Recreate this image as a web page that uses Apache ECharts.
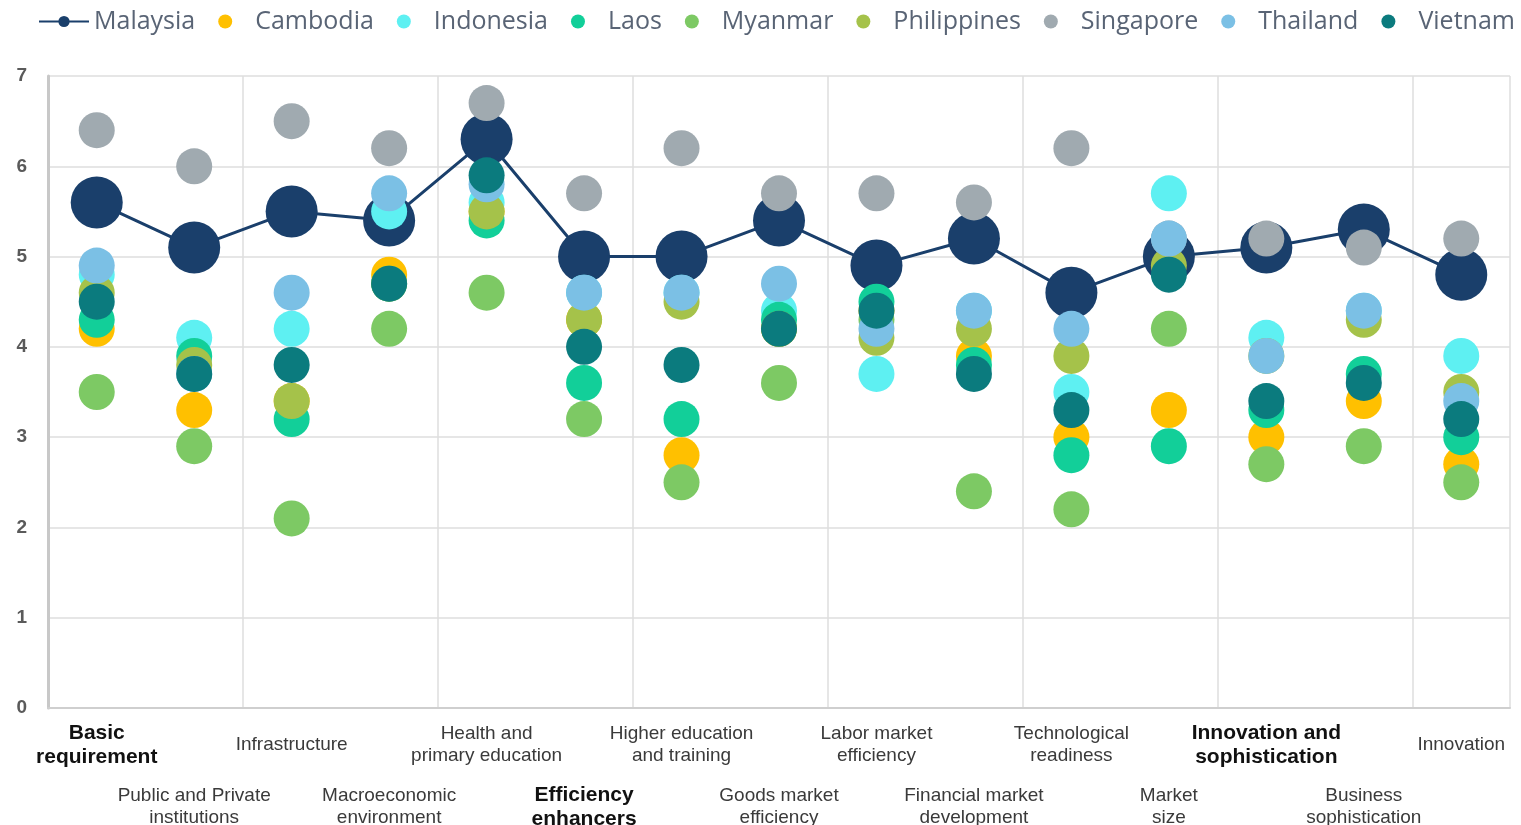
<!DOCTYPE html>
<html>
<head>
<meta charset="utf-8">
<title>Competitiveness pillars</title>
<script src="https://cdn.jsdelivr.net/npm/echarts@6/dist/echarts.min.js"></script>
<style>
    html, body { margin: 0; padding: 0; background: #fff; }
    #chart { width: 1521px; height: 825px; }
</style>
</head>
<body>
<div id="chart"></div>
<script>
// pillars on the x axis (bold ones are the group headings)
var categories = [
    'Basic\nrequirement', 'Public and Private\ninstitutions', 'Infrastructure',
    'Macroeconomic\nenvironment', 'Health and\nprimary education', 'Efficiency\nenhancers',
    'Higher education\nand training', 'Goods market\nefficiency', 'Labor market\nefficiency',
    'Financial market\ndevelopment', 'Technological\nreadiness', 'Market\nsize',
    'Innovation and\nsophistication', 'Business\nsophistication', 'Innovation'
]
var headings = [0, 5, 12]
var yTicks = [0, 1, 2, 3, 4, 5, 6, 7]

var countries = ['Malaysia', 'Cambodia', 'Indonesia', 'Laos', 'Myanmar', 'Philippines', 'Singapore', 'Thailand', 'Vietnam']
var colors = ['#1a3f6b', '#ffc000', '#5ef0f2', '#12cf99', '#7dc964', '#a5c24a', '#a0aab0', '#7bc0e5', '#0b7b7e']

// scores per country, one per pillar
var malaysia    = [5.6, 5.1, 5.5, 5.4, 6.3, 5.0, 5.0, 5.4, 4.9, 5.2, 4.6, 5.0, 5.1, 5.3, 4.8]
var cambodia    = [4.2, 3.3, 3.4, 4.8, 5.5, 4.3, 2.8, 4.2, 4.4, 3.9, 3.0, 3.3, 3.0, 3.4, 2.7]
var indonesia   = [4.8, 4.1, 4.2, 5.5, 5.6, 4.6, 4.6, 4.4, 3.7, 4.4, 3.5, 5.7, 4.1, 4.4, 3.9]
var laos        = [4.3, 3.9, 3.2, 4.7, 5.4, 3.6, 3.2, 4.3, 4.5, 3.8, 2.8, 2.9, 3.3, 3.7, 3.0]
var myanmar     = [3.5, 2.9, 2.1, 4.2, 4.6, 3.2, 2.5, 3.6, 4.3, 2.4, 2.2, 4.2, 2.7, 2.9, 2.5]
var philippines = [4.6, 3.8, 3.4, 4.7, 5.5, 4.3, 4.5, 4.2, 4.1, 4.2, 3.9, 4.9, 3.9, 4.3, 3.5]
var singapore   = [6.4, 6.0, 6.5, 6.2, 6.7, 5.7, 6.2, 5.7, 5.7, 5.6, 6.2, 5.2, 5.2, 5.1, 5.2]
var thailand    = [4.9, 3.7, 4.6, 5.7, 5.8, 4.6, 4.6, 4.7, 4.2, 4.4, 4.2, 5.2, 3.9, 4.4, 3.4]
var vietnam     = [4.5, 3.7, 3.8, 4.7, 5.9, 4.0, 3.8, 4.2, 4.4, 3.7, 3.3, 4.8, 3.4, 3.6, 3.2]

var values = [malaysia, cambodia, indonesia, laos, myanmar, philippines, singapore, thailand, vietnam]

var chart = echarts.init(document.getElementById('chart'))

function pillarLabel(value, index) {
    if (headings.indexOf(index) >= 0) return '{head|' + value.split('\n').join('}\n{head|') + '}'
    return '{norm|' + value.split('\n').join('}\n{norm|') + '}'
}

var labelRich = {
    head: { fontFamily: 'Liberation Sans', fontSize: 21, fontWeight: 'bold', color: '#111', lineHeight: 24 },
    norm: { fontFamily: 'Liberation Sans', fontSize: 19, color: '#3a3a3a', lineHeight: 22 }
}

var series = countries.map(function (name, i) {
    if (i === 0) {
        return {
            name: name,
            type: 'line',
            data: values[i],
            symbol: 'circle',
            symbolSize: 52,
            itemStyle: { color: colors[i] },
            lineStyle: { color: colors[i], width: 3 },
            z: 2
        }
    }
    return {
        name: name,
        type: 'scatter',
        data: values[i],
        symbol: 'circle',
        symbolSize: 36,
        itemStyle: { color: colors[i], opacity: 1 },
        z: 3
    }
})

var option = {
    animation: false,
    color: colors,
    legend: {
        data: countries,
        left: 33,
        top: 4,
        itemWidth: 50,
        itemHeight: 14,
        itemGap: 23,
        textStyle: { fontFamily: 'Open Sans', fontSize: 25, color: '#596475' }
    },
    grid: { left: 48, right: 11, top: 76, bottom: 117, outerBoundsMode: 'none' },
    xAxis: [
        {
            type: 'category',
            data: categories,
            boundaryGap: true,
            axisLine: { show: true, lineStyle: { color: '#cfcfcf', width: 2 } },
            axisTick: { show: false },
            splitLine: { show: true, lineStyle: { color: '#dedede', width: 1.5 } },
            axisLabel: {
                interval: function (index) { return index % 2 === 0 },
                margin: 37,
                verticalAlign: 'middle',
                formatter: pillarLabel,
                rich: labelRich
            }
        },
        {
            type: 'category',
            data: categories,
            position: 'bottom',
            boundaryGap: true,
            axisLine: { show: false },
            axisTick: { show: false },
            splitLine: { show: false },
            axisLabel: {
                interval: function (index) { return index % 2 === 1 },
                margin: 99,
                verticalAlign: 'middle',
                formatter: pillarLabel,
                rich: labelRich
            }
        }
    ],
    yAxis: {
        type: 'value',
        min: yTicks[0],
        max: yTicks[yTicks.length - 1],
        interval: 1,
        axisLine: { show: true, lineStyle: { color: '#c8c8c8', width: 3 } },
        axisTick: { show: false },
        splitLine: { show: true, lineStyle: { color: '#dedede', width: 1.5 } },
        axisLabel: {
            margin: 21,
            fontFamily: 'Liberation Sans',
            fontSize: 19,
            fontWeight: 'bold',
            color: '#5a5a5a'
        }
    },
    series: series
}

chart.setOption(option)

window.onresize = () => {
    chart.resize()
}
</script>
</body>
</html>
